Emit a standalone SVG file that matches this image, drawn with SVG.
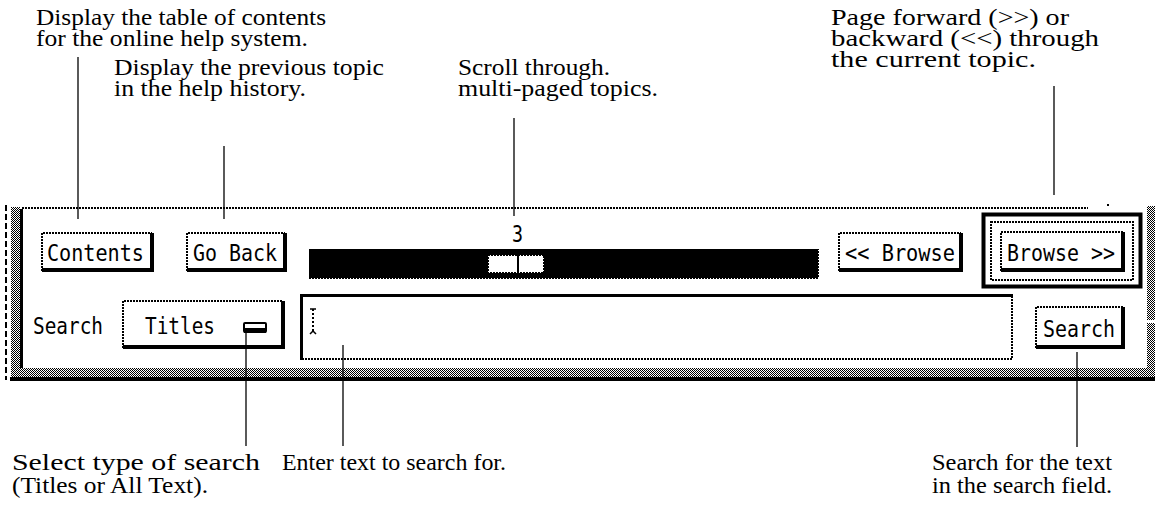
<svg xmlns="http://www.w3.org/2000/svg" width="1159" height="509" viewBox="0 0 1159 509">
<style>
.lbl{font-family:"Liberation Serif",serif;font-size:23px;fill:#000}
.ui{font-family:"DejaVu Sans Mono",monospace;font-size:23px;fill:#000}
.dot{fill:none;stroke:#000;stroke-width:2;stroke-dasharray:2 1}
.shd{fill:none;stroke:#000;stroke-width:4}
.lead{stroke:#000;stroke-width:1.3;fill:none}
.face{fill:#fff}
</style>
<defs>
<pattern id="stip" width="2" height="2" patternUnits="userSpaceOnUse">
<rect width="2" height="2" fill="#fff"/>
<rect width="1" height="1" fill="#000"/>
<rect x="1" y="1" width="1" height="1" fill="#000"/>
</pattern>
</defs>
<rect width="1159" height="509" fill="#fff"/>

<g id="panel">
<line x1="6" y1="205" x2="6" y2="380" stroke="#000" stroke-width="2" stroke-dasharray="6 3"/>
<rect x="11" y="207" width="9" height="170" fill="url(#stip)"/>
<rect x="20" y="209" width="3" height="161" fill="#000"/>
<line x1="22" y1="208" x2="1088" y2="208" class="dot"/>
<rect x="1107" y="204" width="2" height="2" fill="#000"/>
<rect x="1147" y="206" width="8" height="114" fill="url(#stip)"/>
<rect x="1147" y="323" width="8" height="54" fill="url(#stip)"/>
<rect x="11" y="368" width="1144" height="9" fill="url(#stip)"/>
<rect x="10" y="377" width="1145" height="4" fill="#000"/>
</g>

<g id="btn-contents">
<rect x="41" y="232" width="113" height="40" class="face"/>
<path d="M42 271 V233 H152" class="dot"/>
<path d="M152 233 V270 H42" class="shd"/>
<text x="47" y="261" class="ui" textLength="97" lengthAdjust="spacingAndGlyphs">Contents</text>
</g>

<g id="btn-goback">
<rect x="186" y="232" width="101" height="40" class="face"/>
<path d="M187 271 V233 H285" class="dot"/>
<path d="M285 233 V270 H187" class="shd"/>
<text x="193" y="261" class="ui" textLength="84" lengthAdjust="spacingAndGlyphs">Go Back</text>
</g>

<g id="scrollbar">
<rect x="309" y="249" width="509" height="29" fill="#000"/>
<path d="M309 278 H818 V249" class="dot"/>
<rect x="488" y="255" width="56" height="18" fill="#fff"/>
<rect x="488" y="255" width="56" height="18" class="dot"/>
<rect x="517" y="255" width="2" height="18" fill="#000"/>
<text x="512" y="242" class="ui" textLength="11" lengthAdjust="spacingAndGlyphs">3</text>
</g>

<g id="btn-browse-back">
<rect x="838" y="232" width="125" height="40" class="face"/>
<path d="M839 271 V233 H961" class="dot"/>
<path d="M961 233 V270 H839" class="shd"/>
<text x="845" y="261" class="ui" textLength="110" lengthAdjust="spacingAndGlyphs">&lt;&lt; Browse</text>
</g>

<g id="btn-browse-fwd">
<rect x="983.5" y="214.5" width="157" height="72" fill="none" stroke="#000" stroke-width="4"/>
<rect x="991" y="222" width="142" height="58" class="dot"/>
<rect x="1000" y="231" width="125" height="41" class="face"/>
<path d="M1001 271 V232 H1123" class="dot"/>
<path d="M1123 232 V270 H1001" class="shd"/>
<text x="1007" y="261" class="ui" textLength="108" lengthAdjust="spacingAndGlyphs">Browse &gt;&gt;</text>
</g>

<g id="search-label">
<text x="33" y="334" class="ui" textLength="70" lengthAdjust="spacingAndGlyphs">Search</text>
</g>

<g id="titles-menu">
<rect x="122" y="300" width="163" height="49" class="face"/>
<path d="M123 348 V301 H283" class="dot"/>
<path d="M283 301 V347 H123" class="shd"/>
<text x="145" y="334" class="ui" textLength="70" lengthAdjust="spacingAndGlyphs">Titles</text>
<rect x="244" y="323" width="22" height="9" rx="1" fill="#fff" stroke="#000" stroke-width="2"/>
<rect x="244" y="328" width="22" height="5" fill="#000"/>
</g>

<g id="search-field">
<rect x="300" y="294" width="713" height="66" class="face"/>
<path d="M301.5 360 V295.5 H1013" fill="none" stroke="#000" stroke-width="3"/>
<path d="M1012 296 V359 H302" class="dot"/>
<line x1="313" y1="309" x2="313" y2="333" stroke="#000" stroke-width="2" stroke-dasharray="2 2"/>
<path d="M310 309 H316 M310 334 L313 331 L316 334" stroke="#000" stroke-width="1.5" fill="none"/>
</g>

<g id="btn-search">
<rect x="1035" y="306" width="90" height="43" class="face"/>
<path d="M1036 348 V307 H1123" class="dot"/>
<path d="M1123 307 V347 H1036" class="shd"/>
<text x="1043" y="337" class="ui" textLength="72" lengthAdjust="spacingAndGlyphs">Search</text>
</g>

<g id="connectors">
<line x1="78" y1="57" x2="78" y2="219" class="lead"/>
<line x1="224" y1="146" x2="224" y2="219" class="lead"/>
<line x1="514" y1="118" x2="514" y2="216" class="lead"/>
<line x1="1054" y1="86" x2="1054" y2="195" class="lead"/>
<line x1="246" y1="333" x2="246" y2="446" class="lead"/>
<line x1="343" y1="345" x2="343" y2="446" class="lead"/>
<line x1="1077" y1="352" x2="1077" y2="447" class="lead"/>
</g>

<g id="label-contents">
<text x="36" y="25" class="lbl" textLength="290" lengthAdjust="spacingAndGlyphs">Display the table of contents</text>
<text x="36" y="46" class="lbl" textLength="272" lengthAdjust="spacingAndGlyphs">for the online help system.</text>
</g>
<g id="label-goback">
<text x="114" y="75" class="lbl" textLength="270" lengthAdjust="spacingAndGlyphs">Display the previous topic</text>
<text x="114" y="96" class="lbl" textLength="192" lengthAdjust="spacingAndGlyphs">in the help history.</text>
</g>
<g id="label-scroll">
<text x="458" y="75" class="lbl" textLength="152" lengthAdjust="spacingAndGlyphs">Scroll through.</text>
<text x="458" y="96" class="lbl" textLength="200" lengthAdjust="spacingAndGlyphs">multi-paged topics.</text>
</g>
<g id="label-browse">
<text x="831" y="25" class="lbl" textLength="238" lengthAdjust="spacingAndGlyphs">Page forward (&gt;&gt;) or</text>
<text x="831" y="46" class="lbl" textLength="268" lengthAdjust="spacingAndGlyphs">backward (&lt;&lt;) through</text>
<text x="831" y="67" class="lbl" textLength="205" lengthAdjust="spacingAndGlyphs">the current topic.</text>
</g>
<g id="label-titles">
<text x="12" y="470" class="lbl" textLength="248" lengthAdjust="spacingAndGlyphs">Select type of search</text>
<text x="12" y="493" class="lbl" textLength="196" lengthAdjust="spacingAndGlyphs">(Titles or All Text).</text>
</g>
<g id="label-enter">
<text x="282" y="470" class="lbl" textLength="224" lengthAdjust="spacingAndGlyphs">Enter text to search for.</text>
</g>
<g id="label-search">
<text x="932" y="470" class="lbl" textLength="180" lengthAdjust="spacingAndGlyphs">Search for the text</text>
<text x="932" y="493" class="lbl" textLength="180" lengthAdjust="spacingAndGlyphs">in the search field.</text>
</g>
</svg>
